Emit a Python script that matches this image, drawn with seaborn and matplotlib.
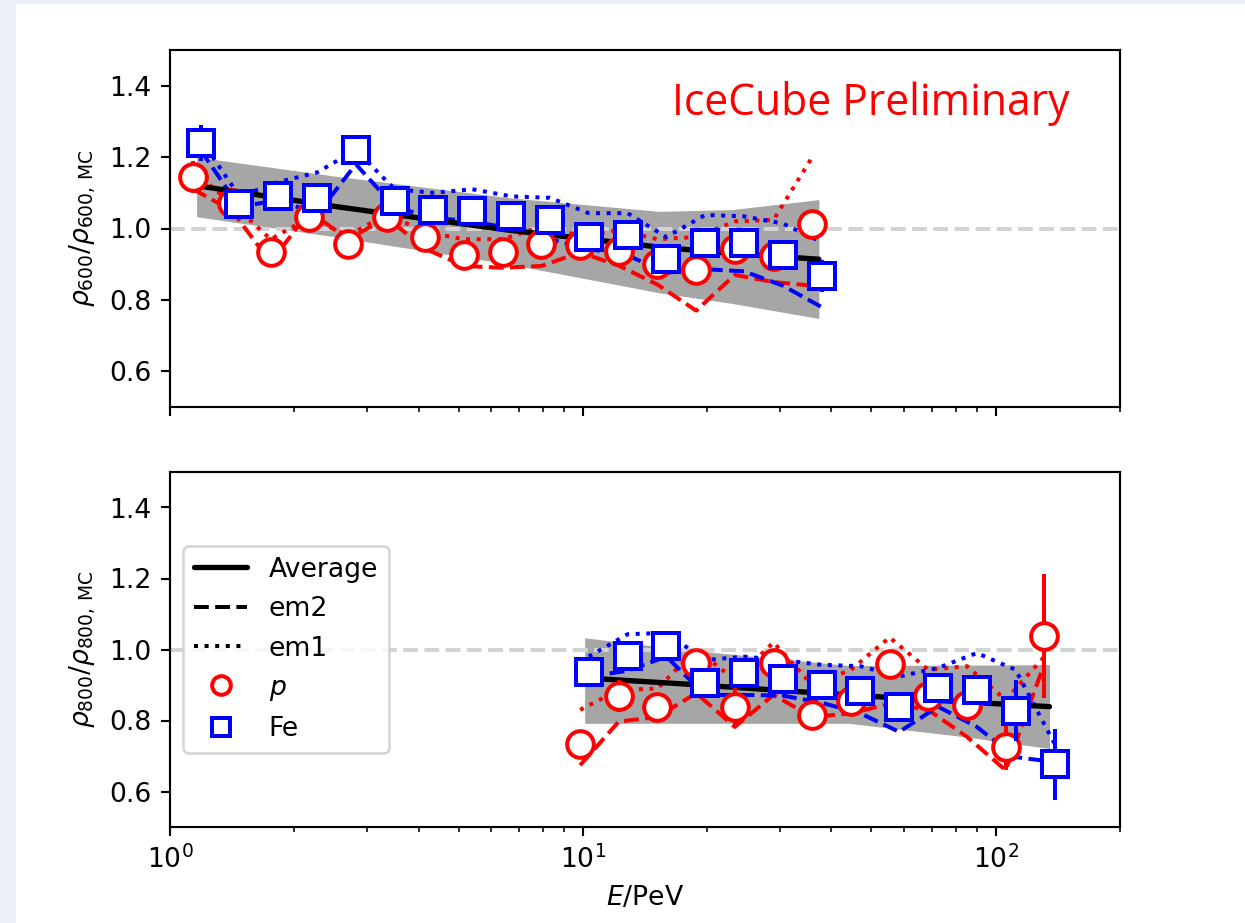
import numpy as np
import seaborn as sns
import matplotlib.pyplot as plt
from matplotlib.lines import Line2D
from matplotlib.patches import Rectangle

# energies of the bins (PeV)
E_p = [1.138, 1.413, 1.753, 2.175, 2.699, 3.349, 4.155, 5.155, 6.396, 7.937,
       9.847, 12.22, 15.16, 18.81, 23.34, 28.96, 35.94, 44.59, 55.33, 68.65,
       85.19, 105.7, 131.2]
E_fe = [1.186, 1.473, 1.829, 2.271, 2.820, 3.502, 4.347, 5.398, 6.702, 8.322,
        10.33, 12.83, 15.93, 19.78, 24.56, 30.50, 37.86, 47.01, 58.38, 72.48,
        90.0, 111.7, 138.8]

# ---- top panel: rho600 (bins 0..16)
top_p = [1.145, 1.072, 0.933, 1.033, 0.957, 1.033, 0.976, 0.927, 0.933, 0.957,
         0.955, 0.938, 0.900, 0.884, 0.943, 0.924, 1.014]
top_p_err = [0.045, 0.03, 0.04, 0.03, 0.025, 0.03, 0.02, 0.02, 0.02, 0.02,
             0.02, 0.02, 0.02, 0.02, 0.02, 0.02, 0.03]
top_fe = [1.240, 1.069, 1.091, 1.086, 1.219, 1.076, 1.053, 1.048, 1.035, 1.024,
          0.976, 0.981, 0.914, 0.960, 0.960, 0.927, 0.867]
top_fe_err = [0.05, 0.02, 0.02, 0.02, 0.02, 0.02, 0.02, 0.02, 0.02, 0.02,
              0.02, 0.02, 0.02, 0.02, 0.02, 0.02, 0.045]
top_p_em2 = [1.11, 1.05, 0.905, 1.048, 0.97, 1.03, 0.943, 0.895, 0.89, 0.895,
             0.933, 0.896, 0.843, 0.77, 0.87, 0.85, 0.84]
top_p_em1 = [1.16, 1.07, 0.97, 1.03, 0.98, 1.04, 0.99, 0.97, 0.97, 1.005,
             0.98, 0.995, 0.97, 0.976, 1.02, 1.024, 1.2]
top_fe_em2 = [1.22, 1.06, 1.08, 1.04, 1.18, 1.06, 1.03, 1.02, 1.0, 0.97,
              0.943, 0.925, 0.876, 0.886, 0.88, 0.84, 0.78]
top_fe_em1 = [1.25, 1.09, 1.13, 1.157, 1.22, 1.11, 1.1, 1.11, 1.09, 1.086,
              1.043, 1.043, 0.976, 1.038, 1.034, 1.014, 0.962]
top_band_E = [1.16, 2.5, 6.64, 15.3, 23.0, 37.3]
top_avg = [1.12, 1.062, 0.995, 0.948, 0.93, 0.914]
top_hi = [1.20, 1.147, 1.086, 1.048, 1.053, 1.081]
top_lo = [1.033, 0.977, 0.90, 0.82, 0.79, 0.748]

# ---- bottom panel: rho800 (bins 10..22)
bot_p = [0.735, 0.870, 0.839, 0.962, 0.837, 0.962, 0.816, 0.855, 0.960, 0.868,
         0.844, 0.726, 1.038]
bot_p_err = [0.03, 0.045, 0.03, 0.04, 0.055, 0.03, 0.02, 0.02, 0.03, 0.02,
             0.02, 0.065, 0.175]
bot_fe = [0.936, 0.983, 1.011, 0.905, 0.934, 0.918, 0.899, 0.884, 0.839, 0.891,
          0.887, 0.828, 0.677]
bot_fe_err = [0.02, 0.02, 0.02, 0.02, 0.02, 0.02, 0.02, 0.02, 0.02, 0.02,
              0.02, 0.085, 0.10]
bot_p_em2 = [0.674, 0.797, 0.81, 0.877, 0.782, 0.872, 0.81, 0.82, 0.847, 0.83,
             0.754, 0.66, 0.96]
bot_p_em1 = [0.83, 0.886, 0.89, 1.0, 0.915, 1.02, 0.9, 0.943, 1.034, 0.943,
             0.953, 0.858, 0.98]
bot_fe_em2 = [0.924, 0.94, 0.98, 0.872, 0.872, 0.87, 0.85, 0.82, 0.768, 0.839,
              0.782, 0.697, 0.683]
bot_fe_em1 = [0.98, 1.043, 1.047, 0.97, 0.98, 0.97, 0.957, 0.953, 0.924, 0.948,
              0.99, 0.943, 0.735]
bot_band_E = [10.1, 17.5, 44.0, 84.5, 135.0]
bot_avg = [0.92, 0.903, 0.872, 0.852, 0.839]
bot_hi = [1.033, 1.0, 0.955, 0.956, 0.957]
bot_lo = [0.792, 0.792, 0.792, 0.754, 0.721]

sns.set_style('ticks', rc={'axes.edgecolor': 'black', 'text.color': 'black',
                           'axes.labelcolor': 'black', 'xtick.color': 'black',
                           'ytick.color': 'black'})
plt.rcParams['font.family'] = ['DejaVu Sans']

fig = plt.figure(figsize=(1245 / 192, 923 / 192), dpi=192)
fig.patch.set_facecolor('#edf1f7')
fig.add_artist(Rectangle((16 / 1245, 0), 1, 1 - 4 / 923, transform=fig.transFigure,
                         facecolor='white', edgecolor='none', zorder=-10))

ax1 = fig.add_axes([170 / 1245, 1 - 407 / 923, 950 / 1245, 357 / 923])
ax2 = fig.add_axes([170 / 1245, 1 - 827 / 923, 950 / 1245, 355 / 923], sharex=ax1)


def panel(ax, n0, n1, p, perr, fe, feerr, p2, p1, f2, f1, bE, avg, hi, lo):
    Ep = E_p[n0:n1]
    Ef = E_fe[n0:n1]
    ax.fill_between(bE, lo, hi, color='gray', alpha=0.7, lw=0, zorder=1)
    ax.axhline(1.0, color='lightgray', ls='--', lw=1.5, zorder=1.5)
    sns.lineplot(x=Ep, y=p2, ax=ax, color='red', linestyle='--', lw=1.5, zorder=2)
    sns.lineplot(x=Ep, y=p1, ax=ax, color='red', linestyle=':', lw=1.5, zorder=2)
    sns.lineplot(x=Ef, y=f2, ax=ax, color='blue', linestyle='--', lw=1.5, zorder=2)
    sns.lineplot(x=Ef, y=f1, ax=ax, color='blue', linestyle=':', lw=1.5, zorder=2)
    sns.lineplot(x=bE, y=avg, ax=ax, color='black', lw=2, zorder=3)
    ax.errorbar(Ep, p, yerr=perr, fmt='o', ms=10, mfc='white', mec='red',
                mew=1.5, ecolor='red', elinewidth=1.5, zorder=4)
    ax.errorbar(Ef, fe, yerr=feerr, fmt='s', ms=10, mfc='white', mec='blue',
                mew=1.5, ecolor='blue', elinewidth=1.5, zorder=5)
    ax.set_ylim(0.5, 1.5)
    ax.set_yticks([0.6, 0.8, 1.0, 1.2, 1.4])


panel(ax1, 0, 17, top_p, top_p_err, top_fe, top_fe_err, top_p_em2, top_p_em1,
      top_fe_em2, top_fe_em1, top_band_E, top_avg, top_hi, top_lo)
panel(ax2, 10, 23, bot_p, bot_p_err, bot_fe, bot_fe_err, bot_p_em2, bot_p_em1,
      bot_fe_em2, bot_fe_em1, bot_band_E, bot_avg, bot_hi, bot_lo)

ax1.set_xscale('log')
ax1.set_xlim(1, 200)
ax1.tick_params(labelbottom=False)
ax1.set_ylabel(r'$\rho_{600}/\rho_{600,\,\mathrm{MC}}$')
ax2.set_ylabel(r'$\rho_{800}/\rho_{800,\,\mathrm{MC}}$')
ax2.set_xlabel(r'$E$/PeV')

ax1.text(0.528, 0.818, 'IceCube Preliminary', transform=ax1.transAxes,
         color='red', fontsize=16, family=['Open Sans', 'DejaVu Sans'])

handles = [Line2D([], [], color='black', lw=2, label='Average'),
           Line2D([], [], color='black', ls='--', lw=1.5, label='em2'),
           Line2D([], [], color='black', ls=':', lw=1.5, label='em1'),
           Line2D([], [], color='red', marker='o', ls='none', mfc='white', ms=7,
                  mew=1.5, label='$p$'),
           Line2D([], [], color='blue', marker='s', ls='none', mfc='white', ms=7,
                  mew=1.5, label='Fe')]
ax2.legend(handles=handles, loc='center left')

fig.savefig('out.png', dpi=192, facecolor=fig.get_facecolor())
